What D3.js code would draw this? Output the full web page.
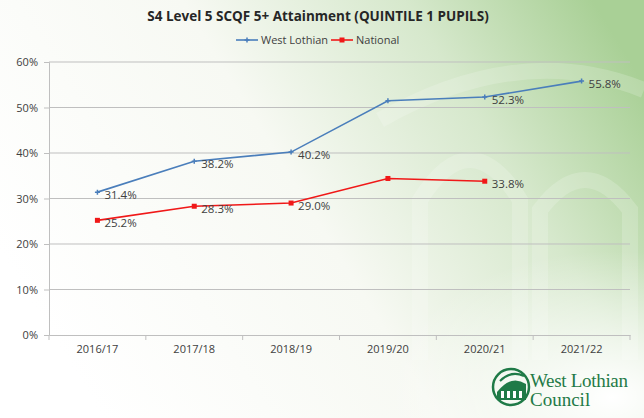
<!DOCTYPE html>
<html><head><meta charset="utf-8">
<script src="https://cdn.jsdelivr.net/npm/d3@7"></script>
<style>body{margin:0;background:#fff}svg{display:block}</style>
</head><body>
<svg id="c" width="644" height="418"></svg>
<script>
const categories = ["2016/17","2017/18","2018/19","2019/20","2020/21","2021/22"];
const westLothian = [31.4, 38.2, 40.2, 51.5, 52.3, 55.8];
const national = [25.2, 28.3, 29.0, 34.4, 33.8, null];
const wlLabels = ["31.4%","38.2%","40.2%",null,"52.3%","55.8%"];
const natLabels = ["25.2%","28.3%","29.0%",null,"33.8%",null];
const yTicks = [0,10,20,30,40,50,60];

const svg = d3.select("#c");
const W = 644, H = 418;
const defs = svg.append("defs");
const lg = defs.append("linearGradient").attr("id","bg").attr("x1","0").attr("y1","0.6").attr("x2","1").attr("y2","0.2");
lg.append("stop").attr("offset","0").attr("stop-color","#ffffff");
lg.append("stop").attr("offset","0.45").attr("stop-color","#f7f9f3");
lg.append("stop").attr("offset","0.75").attr("stop-color","#d6e8cc");
lg.append("stop").attr("offset","1").attr("stop-color","#a9d096");
const rg = defs.append("radialGradient").attr("id","fade").attr("cx","0.95").attr("cy","0.95").attr("r","0.35");
rg.append("stop").attr("offset","0").attr("stop-color","#ffffff").attr("stop-opacity",1);
rg.append("stop").attr("offset","1").attr("stop-color","#ffffff").attr("stop-opacity",0);
svg.append("rect").attr("width",W).attr("height",H).attr("fill","url(#bg)");
const deco = svg.append("g").attr("fill","none").attr("stroke","#ffffff").attr("stroke-opacity",0.18).attr("stroke-width",16);
deco.append("path").attr("d","M420,360 L420,200 Q470,120 520,200 L520,360");
deco.append("path").attr("d","M540,360 L540,210 Q585,150 630,210 L630,360");
deco.append("path").attr("d","M380,120 Q520,40 644,90");
svg.append("rect").attr("width",W).attr("height",H).attr("fill","url(#fade)");

const x0 = 49, x1 = 630, yTop = 62, yBot = 335;
const x = d3.scaleBand().domain(categories).range([x0,x1]);
const y = d3.scaleLinear().domain([0,60]).range([yBot,yTop]);
const cx = d => x(d) + x.bandwidth()/2;

svg.append("g").selectAll("line").data(yTicks.filter(t=>t>0)).join("line")
  .attr("x1",x0).attr("x2",x1).attr("y1",d=>y(d)).attr("y2",d=>y(d))
  .attr("stroke","#bfbfbf").attr("stroke-width",1);

const yAxis = d3.axisLeft(y).tickValues(yTicks).tickFormat(d=>d+"%").tickSize(5).tickPadding(6);
const ya = svg.append("g").attr("transform",`translate(${x0},0)`).call(yAxis);
ya.select(".domain").attr("stroke","#bfbfbf");
ya.selectAll(".tick line").attr("stroke","#bfbfbf");
ya.selectAll("text").attr("font-family","Open Sans, sans-serif").attr("font-size",11).attr("fill","#404040");

const xAxis = d3.axisBottom(x).tickSize(0).tickPadding(10);
const xa = svg.append("g").attr("transform",`translate(0,${yBot})`).call(xAxis);
xa.select(".domain").attr("stroke","#bfbfbf");
xa.selectAll("text").attr("font-family","Open Sans, sans-serif").attr("font-size",11).attr("fill","#404040");
svg.append("g").selectAll("line").data(d3.range(categories.length+1)).join("line")
  .attr("x1",i=>x0+i*x.bandwidth()).attr("x2",i=>x0+i*x.bandwidth())
  .attr("y1",yBot).attr("y2",yBot+5).attr("stroke","#bfbfbf");

const blue = "#4a7ebb", red = "#f01818";
const line = d3.line().defined(d=>d.v!=null).x(d=>cx(d.c)).y(d=>y(d.v));
const wl = categories.map((c,i)=>({c,v:westLothian[i],l:wlLabels[i]}));
const na = categories.map((c,i)=>({c,v:national[i],l:natLabels[i]}));

svg.append("path").datum(na).attr("d",line).attr("fill","none").attr("stroke",red).attr("stroke-width",1.6);
svg.append("path").datum(wl).attr("d",line).attr("fill","none").attr("stroke",blue).attr("stroke-width",1.6);

svg.append("g").selectAll("rect").data(na.filter(d=>d.v!=null)).join("rect")
  .attr("x",d=>cx(d.c)-2.5).attr("y",d=>y(d.v)-2.5).attr("width",5).attr("height",5).attr("fill",red);
svg.append("g").selectAll("path").data(wl).join("path")
  .attr("d",d=>`M${cx(d.c)-2.5},${y(d.v)}h5M${cx(d.c)},${y(d.v)-2.5}v5`).attr("stroke",blue).attr("stroke-width",1.5);

const lab = (data) => svg.append("g").selectAll("text").data(data.filter(d=>d.l)).join("text")
  .attr("x",d=>cx(d.c)+7).attr("y",d=>y(d.v)+7)
  .attr("font-family","Open Sans, sans-serif").attr("font-size",11.5).attr("fill","#404040").text(d=>d.l);
lab(wl); lab(na);

svg.append("text").attr("x",318).attr("y",21).attr("text-anchor","middle")
  .attr("font-family","Open Sans, sans-serif").attr("font-weight","bold").attr("font-size",13.5).attr("fill","#262626")
  .text("S4 Level 5 SCQF 5+ Attainment (QUINTILE 1 PUPILS)");

const leg = [{n:"West Lothian",c:blue,x:236,m:"plus"},{n:"National",c:red,x:331,m:"sq"}];
const lgG = svg.append("g");
leg.forEach(d=>{
  lgG.append("line").attr("x1",d.x).attr("x2",d.x+22).attr("y1",40).attr("y2",40).attr("stroke",d.c).attr("stroke-width",1.6);
  if(d.m==="sq") lgG.append("rect").attr("x",d.x+8.5).attr("y",37.5).attr("width",5).attr("height",5).attr("fill",d.c);
  else lgG.append("path").attr("d",`M${d.x+8.5},40h5M${d.x+11},37.5v5`).attr("stroke",d.c).attr("stroke-width",1.5);
  lgG.append("text").attr("x",d.x+25).attr("y",44).attr("font-family","Open Sans, sans-serif").attr("font-size",11).attr("fill","#404040").text(d.n);
});

const logo = svg.append("g");
const green = "#1f7a47";
logo.append("circle").attr("cx",511).attr("cy",387).attr("r",18).attr("fill","none").attr("stroke",green).attr("stroke-width",2.5);
logo.append("path").attr("d","M497,392 Q511,374 526,384 L526,400 L497,400 Z").attr("fill",green);
logo.append("path").attr("d","M500,381 Q511,370 524,376").attr("fill","none").attr("stroke",green).attr("stroke-width",2);
[501,507,513,519].forEach(px=>logo.append("rect").attr("x",px).attr("y",391).attr("width",3).attr("height",7).attr("fill","#fff"));
logo.append("text").attr("x",530).attr("y",387).attr("font-family","Liberation Serif, serif").attr("font-size",19).attr("fill",green).attr("textLength",98).text("West Lothian");
logo.append("text").attr("x",530).attr("y",406).attr("font-family","Liberation Serif, serif").attr("font-size",19).attr("fill",green).text("Council");
</script>
</body></html>
